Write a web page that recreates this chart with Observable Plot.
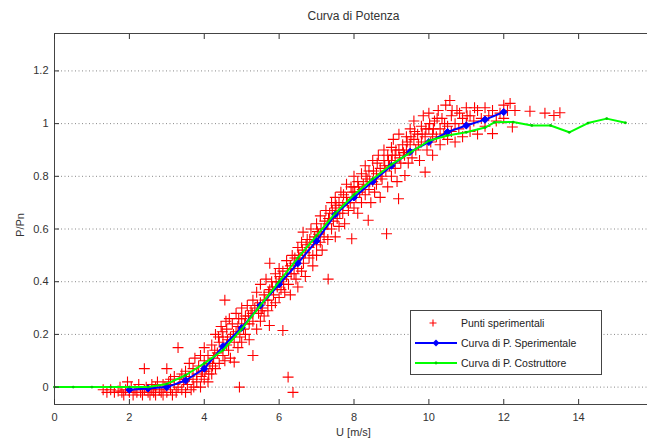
<!DOCTYPE html>
<html><head><meta charset="utf-8">
<script src="https://cdn.jsdelivr.net/npm/d3@7"></script>
<script src="https://cdn.jsdelivr.net/npm/@observablehq/plot@0.6"></script>
<style>
body{margin:0;overflow:hidden;background:#fff;font-family:"Liberation Sans",Arial,sans-serif;}
#wrap{position:relative;width:647px;height:441px;overflow:hidden;}
#chart{position:absolute;left:0;top:0;width:660px;}
#chart svg{max-width:none !important;}
#title{position:absolute;top:9px;left:0;width:707px;text-align:center;font-size:12px;color:#333;}
#xlab{position:absolute;top:426px;left:0;width:707px;text-align:center;font-size:11px;color:#333;}
#ylab{position:absolute;left:20px;top:225px;font-size:11px;color:#333;transform:translate(-50%,-50%) rotate(-90deg);white-space:nowrap;}
#legend{position:absolute;left:410px;top:310px;width:190px;height:63px;border:1px solid #444;background:#fff;font-size:10.5px;color:#222;}
.row{position:absolute;left:0;height:20px;display:flex;align-items:center;}
.row svg{width:50px;height:20px;}
</style></head>
<body>
<div id="wrap">
  <div id="chart"></div>
  <div id="title"></div>
  <div id="xlab"></div>
  <div id="ylab"></div>
  <div id="legend"></div>
</div>
<script>
const titleText = "Curva di Potenza";
const xLabel = "U [m/s]";
const yLabel = "P/Pn";
const legendLabels = ["Punti sperimentali", "Curva di P. Sperimentale", "Curva di P. Costruttore"];
const xTicks = [0, 2, 4, 6, 8, 10, 12, 14, 16];
const yTicks = [0, 0.2, 0.4, 0.6, 0.8, 1, 1.2];

// Curva di P. Sperimentale (blue)
const speU = [2.0, 2.5, 3.0, 3.5, 4.0, 4.5, 5.0, 5.5, 6.0, 6.5, 7.0, 7.5, 8.0, 8.5, 9.0, 9.5, 10.0, 10.5, 11.0, 11.5, 12.0];
const speP = [-0.01, -0.005, 0.0, 0.025, 0.07, 0.155, 0.225, 0.31, 0.39, 0.47, 0.555, 0.655, 0.72, 0.78, 0.84, 0.893, 0.93, 0.968, 0.993, 1.015, 1.044];

// Curva di P. Costruttore (green)
const cosU = [0, 0.5, 1.0, 1.5, 2.0, 2.5, 3.0, 3.5, 4.0, 4.5, 5.0, 5.5, 6.0, 6.5, 7.0, 7.5, 8.0, 8.5, 9.0, 9.5, 10.0, 10.5, 11.0, 11.5, 11.75, 12.25, 12.75, 13.25, 13.75, 14.25, 14.75, 15.25];
const cosP = [0, 0, 0, 0, 0, 0.0, 0.012, 0.045, 0.09, 0.14, 0.22, 0.31, 0.4, 0.49, 0.575, 0.66, 0.73, 0.79, 0.845, 0.89, 0.935, 0.955, 0.967, 0.985, 1.005, 1.006, 0.993, 0.993, 0.967, 1.002, 1.019, 1.003];

// Punti sperimentali (red +), [U, P/Pn]
const punti = [
[1.3,-0.01],[1.4,-0.02],[1.5,-0.01],[1.6,-0.02],[1.7,-0.015],[1.75,0.0],[1.8,-0.02],[1.85,-0.03],[1.9,-0.01],[1.95,0.02],
[2.0,-0.02],[2.05,0.0],[2.1,-0.03],[2.15,-0.01],[2.2,-0.02],[2.25,0.01],[2.3,-0.02],[2.35,-0.03],[2.4,0.07],[2.4,-0.01],
[2.45,0.0],[2.5,-0.02],[2.55,-0.03],[2.6,0.01],[2.6,-0.01],[2.65,-0.02],[2.7,0.0],[2.7,-0.03],[2.75,0.02],[2.8,-0.01],
[2.85,-0.02],[2.9,0.01],[2.9,-0.03],[2.95,0.0],[3.0,0.07],[3.0,-0.02],[3.05,0.02],[3.1,-0.01],[3.1,0.03],[3.15,-0.03],
[3.2,0.01],[3.2,0.04],[3.25,-0.02],[3.3,0.15],[3.3,0.0],[3.35,0.03],[3.4,-0.01],[3.4,0.05],[3.45,0.02],[3.5,-0.02],
[3.5,0.06],[3.55,0.01],[3.6,0.04],[3.6,0.09],[3.65,-0.01],[3.7,0.03],[3.7,0.07],[3.75,0.11],[3.8,0.02],[3.8,0.05],
[3.85,0.08],[3.9,0.0],[3.9,0.12],[3.95,0.06],[4.0,0.03],[4.0,0.1],[4.0,0.15],[4.05,0.07],[4.1,0.02],[4.1,0.12],
[4.15,0.09],[4.2,0.05],[4.2,0.16],[4.25,0.11],[4.3,0.07],[4.3,0.2],[4.35,0.13],[4.4,0.09],[4.4,0.17],[4.45,0.23],
[4.5,0.12],[4.5,0.19],[4.55,0.33],[4.55,0.1],[4.6,0.16],[4.6,0.22],[4.65,0.14],[4.67,0.26],[4.7,0.19],[4.7,0.11],
[4.75,0.24],[4.8,0.095],[4.8,0.17],[4.85,0.21],[4.85,0.28],[4.9,0.15],[4.9,0.23],[4.94,0.0],[4.95,0.19],[5.0,0.26],
[5.0,0.3],[5.0,0.17],[5.05,0.22],[5.1,0.27],[5.1,0.2],[5.15,0.31],[5.2,0.24],[5.2,0.18],[5.25,0.29],[5.3,0.12],
[5.3,0.33],[5.3,0.25],[5.35,0.3],[5.4,0.22],[5.4,0.36],[5.45,0.28],[5.5,0.32],[5.5,0.25],[5.5,0.39],[5.55,0.3],
[5.6,0.35],[5.6,0.27],[5.65,0.41],[5.7,0.33],[5.7,0.29],[5.74,0.234],[5.75,0.47],[5.75,0.37],[5.8,0.31],[5.8,0.4],
[5.85,0.35],[5.9,0.43],[5.9,0.32],[5.95,0.38],[6.0,0.45],[6.0,0.34],[6.0,0.4],[6.05,0.37],[6.1,0.215],[6.1,0.44],
[6.1,0.41],[6.15,0.36],[6.2,0.48],[6.2,0.42],[6.24,0.038],[6.25,0.39],[6.3,0.46],[6.3,0.35],[6.35,0.5],[6.37,-0.02],
[6.4,0.43],[6.4,0.47],[6.45,0.41],[6.5,0.53],[6.5,0.45],[6.5,0.38],[6.55,0.49],[6.6,0.44],[6.6,0.55],[6.64,0.588],
[6.65,0.47],[6.7,0.51],[6.7,0.42],[6.75,0.56],[6.8,0.49],[6.8,0.53],[6.85,0.6],[6.9,0.5],[6.9,0.46],[6.95,0.57],
[7.0,0.54],[7.0,0.62],[7.0,0.5],[7.05,0.58],[7.1,0.55],[7.1,0.65],[7.15,0.52],[7.2,0.6],[7.2,0.57],[7.25,0.67],
[7.31,0.41],[7.3,0.62],[7.3,0.56],[7.35,0.66],[7.4,0.6],[7.4,0.7],[7.45,0.63],[7.5,0.57],[7.5,0.68],[7.5,0.72],
[7.55,0.64],[7.6,0.7],[7.6,0.61],[7.65,0.74],[7.7,0.66],[7.7,0.69],[7.75,0.62],[7.8,0.72],[7.8,0.77],[7.85,0.67],
[7.9,0.7],[7.94,0.563],[7.95,0.74],[8.0,0.68],[8.0,0.76],[8.0,0.8],[8.05,0.72],[8.1,0.66],[8.1,0.78],[8.15,0.74],
[8.2,0.81],[8.2,0.7],[8.25,0.77],[8.3,0.73],[8.3,0.84],[8.35,0.79],[8.38,0.633],[8.4,0.75],[8.4,0.82],[8.45,0.7],
[8.5,0.78],[8.5,0.86],[8.55,0.74],[8.6,0.81],[8.6,0.77],[8.65,0.88],[8.7,0.83],[8.7,0.72],[8.75,0.79],[8.8,0.86],
[8.8,0.9],[8.87,0.582],[8.85,0.82],[8.9,0.76],[8.9,0.88],[8.95,0.84],[9.0,0.8],[9.0,0.91],[9.0,0.86],[9.05,0.94],
[9.1,0.83],[9.1,0.88],[9.15,0.78],[9.19,0.715],[9.2,0.9],[9.2,0.96],[9.25,0.85],[9.3,0.92],[9.36,0.803],[9.35,0.88],
[9.4,0.95],[9.4,0.9],[9.45,0.85],[9.5,0.98],[9.5,0.92],[9.55,0.87],[9.6,0.94],[9.6,1.01],[9.65,0.9],[9.7,0.96],
[9.75,0.86],[9.8,0.99],[9.8,0.93],[9.85,1.03],[9.9,0.816],[9.9,0.95],[9.95,0.9],[10.0,0.98],[10.0,1.04],[10.05,0.93],
[10.1,0.96],[10.1,0.88],[10.15,1.01],[10.2,0.95],[10.25,1.05],[10.3,0.98],[10.3,0.92],[10.35,1.02],[10.4,0.96],[10.45,1.07],
[10.5,0.99],[10.5,0.94],[10.56,1.088],[10.6,1.03],[10.6,0.97],[10.7,1.0],[10.7,0.93],[10.75,1.05],[10.8,0.98],[10.9,1.02],
[10.9,0.95],[11.0,1.0],[11.0,1.06],[11.1,0.97],[11.1,1.03],[11.2,1.01],[11.3,1.05],[11.3,0.96],[11.4,1.02],[11.5,1.06],
[11.5,0.99],[11.6,1.03],[11.7,0.962],[11.7,1.05],[11.8,1.01],[11.9,1.04],[12.0,1.07],[12.0,1.02],[12.1,1.05],[12.17,1.077],
[12.23,0.987],[12.3,1.05],[12.7,1.047],[13.1,1.04],[13.34,1.031],[13.5,1.041],
[4.62,0.18],[4.78,0.2],[4.92,0.26],[5.08,0.24],[5.18,0.27],[5.28,0.28],[5.42,0.31],[5.52,0.29],[5.62,0.33],[5.72,0.36],
[5.82,0.38],[5.92,0.4],[6.02,0.42],[6.12,0.39],[6.22,0.45],[6.32,0.43],[6.42,0.49],[6.52,0.5],[6.62,0.52],[6.72,0.54],
[6.82,0.56],[6.92,0.55],[7.02,0.59],[7.12,0.6],[7.22,0.63],[7.32,0.64],[7.42,0.67],[7.52,0.69],[7.62,0.66],[7.72,0.73],
[7.82,0.7],[7.92,0.76],[8.02,0.74],[8.12,0.76],[8.22,0.75],[8.32,0.8],[8.42,0.78],[8.52,0.82],[8.62,0.85],[8.72,0.8],
[8.82,0.84],[8.92,0.86],[9.02,0.88],[9.12,0.9],[9.22,0.87],[9.32,0.89],[9.42,0.93],[9.52,0.95],[9.62,0.97],[9.72,0.92],
[9.82,0.96],[9.92,0.98],[10.02,1.0],[10.12,0.98],[10.22,1.02],[10.42,1.0],[10.62,1.05],[10.82,1.04],[11.02,1.03],[11.22,1.06],
[4.28,0.14],[4.38,0.19],[4.48,0.21],[4.58,0.25],[3.92,0.04],[4.02,0.06],[4.12,0.05],[4.22,0.08],[3.72,0.0],[3.52,0.03]
];

const spe = speU.map((u, i) => ({u, p: speP[i]}));
const cos = cosU.map((u, i) => ({u, p: cosP[i]}));
const pts = punti.map(([u, p]) => ({u, p}));

const red = "#ff0000", blue = "#0000ff", green = "#00ff00";

const chart = Plot.plot({
  width: 660, height: 441,
  marginLeft: 54, marginRight: 7, marginTop: 33, marginBottom: 37,
  x: {domain: [0, 16]},
  y: {domain: [-0.066, 1.342]},
  style: {fontFamily: "'Liberation Sans', Arial, sans-serif", fontSize: "11px", color: "#333", background: "#fff", maxWidth: "none"},
  marks: [
    Plot.ruleY(yTicks, {y: d => d, stroke: "#888", strokeWidth: 1, strokeDasharray: "1,2.5"}),
    Plot.dot(pts, {x: "u", y: "p", symbol: "plus", r: 3.6, stroke: red, strokeWidth: 1.1}),
    Plot.line(spe, {x: "u", y: "p", stroke: blue, strokeWidth: 2}),
    Plot.dot(spe, {x: "u", y: "p", symbol: "diamond2", r: 3.2, fill: blue, stroke: blue, strokeWidth: 1}),
    Plot.line(cos, {x: "u", y: "p", stroke: green, strokeWidth: 2}),
    Plot.dot(cos, {x: "u", y: "p", r: 1.4, fill: "#00cc00"}),
    Plot.frame({stroke: "#444", strokeWidth: 1}),
    Plot.axisX({ticks: xTicks, tickSize: 0, tickPadding: 9, tickFormat: d => String(d), label: null}),
    Plot.axisX({ticks: xTicks, anchor: "bottom", tickSize: 5, tickFormat: () => "", label: null, dy: -5}),
    Plot.axisX({ticks: xTicks, anchor: "top", tickSize: 5, tickFormat: () => "", label: null, dy: 5}),
    Plot.axisY({ticks: yTicks, tickSize: 0, tickPadding: 6, tickFormat: d => String(d), label: null}),
    Plot.axisY({ticks: yTicks, anchor: "left", tickSize: 5, tickFormat: () => "", label: null, dx: 5})
  ]
});
chart.style.maxWidth = "none";
document.getElementById("chart").appendChild(chart);
document.getElementById("title").textContent = titleText;
document.getElementById("xlab").textContent = xLabel;
document.getElementById("ylab").textContent = yLabel;

// legend
const lg = document.getElementById("legend");
const swatches = [
  `<path d="M18.5,10H25.5M22,6.5V13.5" stroke="${red}" stroke-width="1.1" fill="none"/>`,
  `<line x1="4" y1="10" x2="46" y2="10" stroke="${blue}" stroke-width="2"/><path d="M25,6.5L28.5,10L25,13.5L21.5,10Z" fill="${blue}"/>`,
  `<line x1="4" y1="10" x2="46" y2="10" stroke="${green}" stroke-width="2"/><circle cx="25" cy="10" r="1.4" fill="#00cc00"/>`
];
legendLabels.forEach((t, i) => {
  const r = document.createElement("div");
  r.className = "row";
  r.style.top = (2 + i * 20) + "px";
  r.innerHTML = `<svg viewBox="0 0 50 20">${swatches[i]}</svg><span>${t}</span>`;
  lg.appendChild(r);
});
</script>
</body></html>
